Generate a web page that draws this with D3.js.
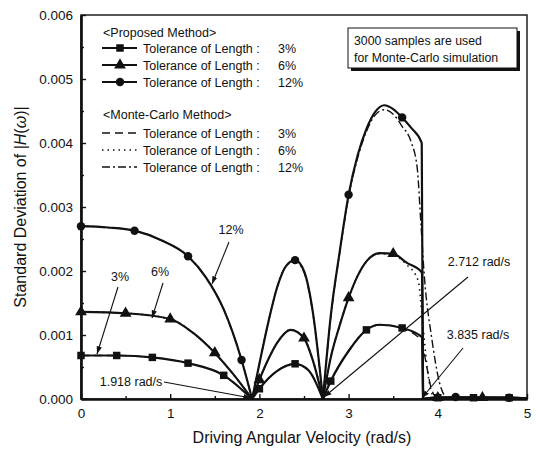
<!DOCTYPE html>
<html>
<head>
<meta charset="utf-8">
<script src="https://cdn.jsdelivr.net/npm/d3@7"></script>
<style>
  body { margin: 0; background: #fff; }
  svg text { font-family: "Liberation Sans", Arial, sans-serif; fill: #111; }
</style>
</head>
<body>
<div id="chart"></div>
<script>
// tick values
const xTicks = [0, 1, 2, 3, 4, 5];
const yTicks = [0, 0.001, 0.002, 0.003, 0.004, 0.005, 0.006];

// proposed method, [omega, std]
const prop3 = [[0,0.00068],[0.4,0.00068],[0.8,0.00065],[1.2,0.00056],[1.6,0.00037],[1.918,0],
  [2.0,0.00016],[2.2,0.00044],[2.4,0.00055],[2.55,0.00045],[2.712,0],
  [2.8,0.00028],[3.0,0.00075],[3.2,0.00108],[3.35,0.00116],[3.6,0.00111],[3.82,0.00097],[3.835,0],
  [4.0,0.00002],[4.4,0.00002],[4.8,0.00002],[5.0,0.00001]];
const prop6 = [[0,0.00136],[0.5,0.00134],[1.0,0.00125],[1.25,0.00104],[1.5,0.00072],[1.7,0.00040],[1.918,0],
  [2.0,0.00030],[2.1,0.00062],[2.2,0.00088],[2.35,0.00108],[2.5,0.00095],[2.6,0.00060],[2.712,0],
  [2.8,0.00065],[2.9,0.00115],[3.0,0.00158],[3.1,0.00192],[3.2,0.00215],[3.35,0.00228],[3.5,0.00227],[3.65,0.00213],[3.82,0.00198],[3.835,0],
  [4.0,0.00002],[4.5,0.00002],[5.0,0.00001]];
const prop12 = [[0,0.00270],[0.3,0.00268],[0.6,0.00263],[0.9,0.00248],[1.2,0.00223],[1.4,0.00190],[1.6,0.00140],[1.8,0.00061],[1.918,0],
  [2.0,0.00055],[2.1,0.00120],[2.2,0.00175],[2.3,0.00208],[2.4,0.00217],[2.5,0.00200],[2.6,0.00135],[2.712,0],
  [2.8,0.00130],[2.9,0.00230],[3.0,0.00319],[3.1,0.00380],[3.2,0.00422],[3.3,0.00449],[3.4,0.00459],[3.5,0.00453],[3.6,0.00440],[3.7,0.00424],[3.82,0.00400],[3.835,0],
  [4.0,0.00002],[4.2,0.00003],[4.5,0.00002],[4.8,0.00002],[5.0,0.00001]];

// monte-carlo method
const mc3 = [[0,0.00068],[0.4,0.00068],[0.8,0.00065],[1.2,0.00056],[1.6,0.00037],[1.918,0],
  [2.0,0.00016],[2.2,0.00044],[2.4,0.00055],[2.55,0.00045],[2.712,0],
  [2.8,0.00028],[3.0,0.00075],[3.2,0.00108],[3.35,0.00116],[3.6,0.00110],[3.75,0.00100],[3.82,0.00090],[3.87,0.00055],[3.92,0.00020],[3.97,0.00004],[4.02,0],
  [4.4,0.00001],[5.0,0.00001]];
const mc6 = [[0,0.00136],[0.5,0.00134],[1.0,0.00125],[1.25,0.00104],[1.5,0.00072],[1.7,0.00040],[1.918,0],
  [2.0,0.00030],[2.1,0.00062],[2.2,0.00088],[2.35,0.00108],[2.5,0.00095],[2.6,0.00060],[2.712,0],
  [2.8,0.00065],[2.9,0.00115],[3.0,0.00158],[3.1,0.00192],[3.2,0.00215],[3.35,0.00227],[3.5,0.00225],[3.65,0.00210],[3.78,0.00185],[3.83,0.00120],[3.88,0.00050],[3.93,0.00010],[3.98,0],
  [4.5,0.00001],[5.0,0.00001]];
const mc12 = [[0,0.00270],[0.3,0.00268],[0.6,0.00263],[0.9,0.00248],[1.2,0.00223],[1.4,0.00190],[1.6,0.00140],[1.8,0.00061],[1.918,0],
  [2.0,0.00055],[2.1,0.00120],[2.2,0.00175],[2.3,0.00208],[2.4,0.00215],[2.5,0.00198],[2.6,0.00133],[2.712,0],
  [2.8,0.00128],[2.9,0.00228],[3.0,0.00316],[3.1,0.00376],[3.2,0.00418],[3.3,0.00444],[3.4,0.00452],[3.5,0.00445],[3.6,0.00426],[3.7,0.00402],[3.77,0.00360],[3.81,0.00275],[3.85,0.00190],[3.93,0.00097],[4.02,0.00025],[4.1,0],
  [4.6,0.00001],[5.0,0.00001]];

// marker positions (omega)
const mark3 = [0,0.4,0.8,1.2,1.6,2.0,2.4,2.8,3.2,3.6,4.0,4.4,4.8];
const mark6 = [0,0.5,1.0,1.5,2.0,2.5,3.0,3.5,4.0,4.5];
const mark12 = [0,0.6,1.2,1.8,2.4,3.0,3.6,4.2,4.8];

const legendPct = ["3%", "6%", "12%"];

const width = 536, height = 453;
const margin = {top: 15, right: 9, bottom: 54, left: 81};
const ink = "#111";

const svg = d3.select("#chart").append("svg")
  .attr("width", width).attr("height", height);

const x = d3.scaleLinear().domain([0, 5]).range([margin.left, width - margin.right]);
const y = d3.scaleLinear().domain([0, 0.006]).range([height - margin.bottom, margin.top]);

// arrowhead
svg.append("defs").append("marker")
  .attr("id", "arr").attr("viewBox", "0 0 10 10").attr("refX", 10).attr("refY", 5)
  .attr("markerWidth", 7).attr("markerHeight", 7).attr("orient", "auto")
  .append("path").attr("d", "M0,1.5L10,5L0,8.5Z").attr("fill", ink);

// frame
svg.append("rect").attr("x", x(0)).attr("y", y(0.006))
  .attr("width", x(5) - x(0)).attr("height", y(0) - y(0.006))
  .attr("fill", "none").attr("stroke", ink).attr("stroke-width", 1.4);

// axes, ticks inward
const gx = svg.append("g").attr("transform", `translate(0,${y(0)})`)
  .call(d3.axisBottom(x).tickValues(xTicks).tickFormat(d3.format("d")).tickSizeInner(-5).tickSizeOuter(0).tickPadding(9));
const gxm = svg.append("g").attr("transform", `translate(0,${y(0)})`)
  .call(d3.axisBottom(x).tickValues(d3.range(0.5, 5, 1)).tickFormat("").tickSizeInner(-3).tickSizeOuter(0));
const gy = svg.append("g").attr("transform", `translate(${x(0)},0)`)
  .call(d3.axisLeft(y).tickValues(yTicks).tickFormat(d3.format(".3f")).tickSizeInner(-5).tickSizeOuter(0).tickPadding(8));
const gym = svg.append("g").attr("transform", `translate(${x(0)},0)`)
  .call(d3.axisLeft(y).tickValues(d3.range(0.0005, 0.006, 0.001)).tickFormat("").tickSizeInner(-3).tickSizeOuter(0));
[gx, gxm, gy, gym].forEach(g => {
  g.select(".domain").attr("stroke", ink).attr("stroke-width", 2.2);
  g.selectAll(".tick line").attr("stroke", ink).attr("stroke-width", 1.4);
  g.selectAll("text").style("font-size", "13.5px").attr("fill", ink);
});

// split a series into segments at its zeros so the dips are sharp
function segments(pts) {
  const out = [];
  let cur = [];
  pts.forEach(p => {
    cur.push(p);
    if (p[1] === 0 && cur.length > 1) { out.push(cur); cur = [p]; }
  });
  if (cur.length > 1) out.push(cur);
  return out;
}
const line = d3.line().x(d => x(d[0])).y(d => y(d[1])).curve(d3.curveMonotoneX);

function drawSeries(pts, dash, w) {
  svg.append("g").selectAll("path").data(segments(pts)).join("path")
    .attr("fill", "none").attr("stroke", ink).attr("stroke-width", w)
    .attr("stroke-dasharray", dash).attr("stroke-linejoin", "round")
    .attr("d", line);
}
drawSeries(mc3, "8,5", 1.4);
drawSeries(mc6, "1.5,4", 1.6);
drawSeries(mc12, "8,3,2,3", 1.4);
drawSeries(prop3, null, 2.2);
drawSeries(prop6, null, 2.2);
drawSeries(prop12, null, 2.2);

const sym = {
  square: d3.symbol().type(d3.symbolSquare).size(56),
  triangle: d3.symbol().type(d3.symbolTriangle).size(60),
  circle: d3.symbol().type(d3.symbolCircle).size(56)
};
function drawMarks(pts, xs, shape) {
  const data = xs.map(v => pts.find(p => Math.abs(p[0] - v) < 1e-9));
  svg.append("g").selectAll("path").data(data).join("path")
    .attr("transform", d => `translate(${x(d[0])},${y(d[1])})`)
    .attr("d", sym[shape]).attr("fill", ink);
}
drawMarks(prop3, mark3, "square");
drawMarks(prop6, mark6, "triangle");
drawMarks(prop12, mark12, "circle");

// legend
const lg = svg.append("g").style("font-size", "12.5px");
lg.append("text").attr("x", 103).attr("y", 37).text("<Proposed Method>");
["square", "triangle", "circle"].forEach((s, i) => {
  const yy = 48 + i * 17;
  lg.append("line").attr("x1", 102).attr("x2", 137).attr("y1", yy).attr("y2", yy)
    .attr("stroke", ink).attr("stroke-width", 2.2);
  lg.append("path").attr("transform", `translate(120,${yy})`).attr("d", sym[s]).attr("fill", ink);
  lg.append("text").attr("x", 143).attr("y", yy + 4.5).text("Tolerance of Length :");
  lg.append("text").attr("x", 278).attr("y", yy + 4.5).text(legendPct[i]);
});
lg.append("text").attr("x", 103).attr("y", 119).text("<Monte-Carlo Method>");
[["8,5", 1.4], ["1.5,4", 1.6], ["8,3,2,3", 1.4]].forEach((s, i) => {
  const yy = 133 + i * 17;
  lg.append("line").attr("x1", 102).attr("x2", 137).attr("y1", yy).attr("y2", yy)
    .attr("stroke", ink).attr("stroke-width", s[1]).attr("stroke-dasharray", s[0]);
  lg.append("text").attr("x", 143).attr("y", yy + 4.5).text("Tolerance of Length :");
  lg.append("text").attr("x", 278).attr("y", yy + 4.5).text(legendPct[i]);
});

// note box with shadow
svg.append("rect").attr("x", 351).attr("y", 31).attr("width", 169).attr("height", 40).attr("fill", ink);
svg.append("rect").attr("x", 348).attr("y", 28).attr("width", 169).attr("height", 40)
  .attr("fill", "#fff").attr("stroke", ink).attr("stroke-width", 1);
svg.append("text").attr("x", 354).attr("y", 45).style("font-size", "12.3px").text("3000 samples are used");
svg.append("text").attr("x", 354).attr("y", 62).style("font-size", "12.3px").text("for Monte-Carlo simulation");

// annotations
const notes = [
  {t: "12%", tx: 231, ty: 234, x1: 229, y1: 242, x2: 212, y2: 284},
  {t: "3%", tx: 120, ty: 281, x1: 118, y1: 287, x2: 97, y2: 354},
  {t: "6%", tx: 160, ty: 276, x1: 163, y1: 283, x2: 152, y2: 318},
  {t: "1.918 rad/s", tx: 131, ty: 386, x1: 164, y1: 382, x2: 251, y2: 398},
  {t: "2.712 rad/s", tx: 479, ty: 266, x1: 468, y1: 277, x2: 324, y2: 397},
  {t: "3.835 rad/s", tx: 478, ty: 339, x1: 463, y1: 348, x2: 422, y2: 398}
];
notes.forEach(n => {
  svg.append("text").attr("x", n.tx).attr("y", n.ty).attr("text-anchor", "middle")
    .style("font-size", "12.5px").text(n.t);
  svg.append("line").attr("x1", n.x1).attr("y1", n.y1).attr("x2", n.x2).attr("y2", n.y2)
    .attr("stroke", ink).attr("stroke-width", 1.1).attr("marker-end", "url(#arr)");
});

// axis titles
svg.append("text").attr("x", 302).attr("y", 443).attr("text-anchor", "middle")
  .style("font-size", "16px").text("Driving Angular Velocity (rad/s)");
const yt = svg.append("text").attr("transform", `translate(26,${(y(0) + y(0.006)) / 2}) rotate(-90)`)
  .attr("text-anchor", "middle").style("font-size", "16px");
yt.append("tspan").text("Standard Deviation of |");
yt.append("tspan").style("font-style", "italic").text("H");
yt.append("tspan").text("(");
yt.append("tspan").style("font-style", "italic").text("ω");
yt.append("tspan").text(")|");
</script>
</body>
</html>
